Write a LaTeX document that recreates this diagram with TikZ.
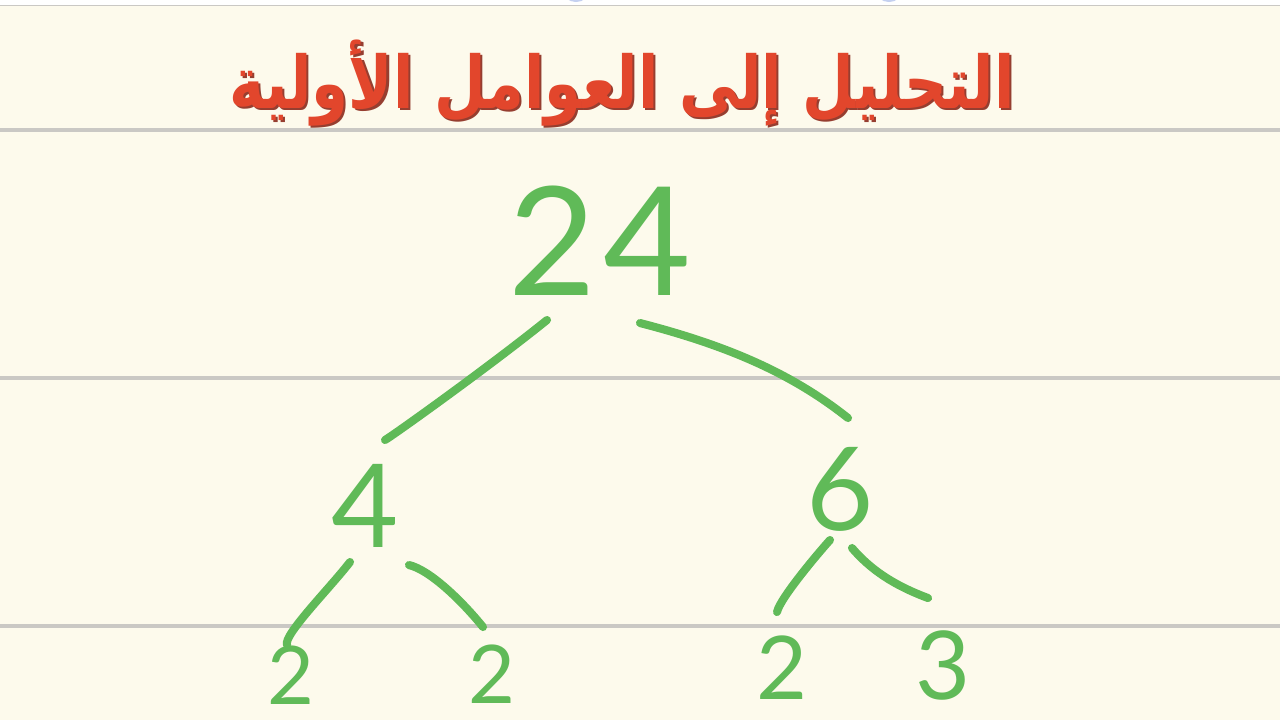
\documentclass[tikz,border=0pt]{standalone}
\usepackage{graphicx}
\usepackage{fontspec}
\setmainfont{Lato}
\newfontfamily\arabicfont[Script=Arabic]{DejaVu Sans}
\TeXXeTstate=1
\usetikzlibrary{calc}
\definecolor{paper}{RGB}{253,250,236}
\definecolor{rule}{RGB}{202,200,196}
\definecolor{ink}{RGB}{96,186,88}
\definecolor{titlered}{RGB}{226,70,44}
\definecolor{titleshadow}{RGB}{150,62,48}
\definecolor{topblue}{RGB}{196,208,240}
\tikzset{
  digit/.style={text=ink, inner sep=0pt},
  branch/.style={draw=ink, line width=2.3pt, line cap=round, line join=round},
  ruleline/.style={draw=rule, line width=1.15pt}
}
\newcommand{\titletext}{\scalebox{1}[1.22]{\resizebox{7.85cm}{!}{\arabicfont\bfseries\fontsize{30}{30}\selectfont\beginR التحليل إلى العوامل الأولية\endR}}}
\begin{document}
\begin{tikzpicture}[x=0.01cm,y=-0.01cm]
\useasboundingbox (0,0) rectangle (1280,720);
\fill[paper] (0,0) rectangle (1280,720);
\fill[white] (0,0) rectangle (1280,5);
\draw[rule, line width=0.3pt] (0,5.5) -- (1280,5.5);
\fill[topblue] (576,-9) ellipse (13 and 11);
\fill[topblue] (889,-9) ellipse (13 and 11);
% ruled lines
\draw[ruleline] (0,130) -- (1280,130);
\draw[ruleline] (0,378) -- (1280,378);
\draw[ruleline] (0,626) -- (1280,626);
% title
\node[text=titleshadow, anchor=base, inner sep=0pt] (titleshadow) at (624,110) {\titletext};
\node[text=titlered, anchor=base, inner sep=0pt] (title) at (622,108) {\titletext};
% numbers
\node[digit, font=\fontsize{43}{43}\selectfont] (n24) at (600,241) {2\kern2pt 4};
\node[digit, font=\fontsize{33}{33}\selectfont] (n4) at (365,506) {4};
\node[digit, font=\fontsize{33}{33}\selectfont] (n6) at (840,489) {6};
\node[digit, font=\fontsize{23}{23}\selectfont] (b1) at (291,675) {2};
\node[digit, font=\fontsize{23}{23}\selectfont] (b2) at (492,674) {2};
\node[digit, font=\fontsize{25}{25}\selectfont] (b3) at (782,668) {2};
\node[digit, font=\fontsize{27}{27}\selectfont] (b4) at (943,665) {3};
% branches
\draw[branch] ($(n24)+(-53,79)$) .. controls ($(n24)+(-110,125)$) and ($(n4)+(30,-72)$) .. ($(n4)+(20,-66)$);
\draw[branch] ($(n24)+(40,82)$) .. controls (725,345) and (790,372) .. ($(n6)+(8,-71)$);
\draw[branch] ($(n4)+(-15,56)$) .. controls ($(n4)+(-35,82)$) and ($(b1)+(-8,-40)$) .. ($(b1)+(-4,-30)$);
\draw[branch] ($(n4)+(44,59)$) .. controls ($(n4)+(65,64)$) and ($(b2)+(-30,-73)$) .. ($(b2)+(-9,-47)$);
\draw[branch] ($(n6)+(-10,51)$) .. controls ($(n6)+(-20,62)$) and ($(b3)+(-2,-70)$) .. ($(b3)+(-5,-56)$);
\draw[branch] ($(n6)+(12,59)$) .. controls ($(n6)+(30,80)$) and ($(b4)+(-50,-80)$) .. ($(b4)+(-15,-67)$);
\end{tikzpicture}
\end{document}
